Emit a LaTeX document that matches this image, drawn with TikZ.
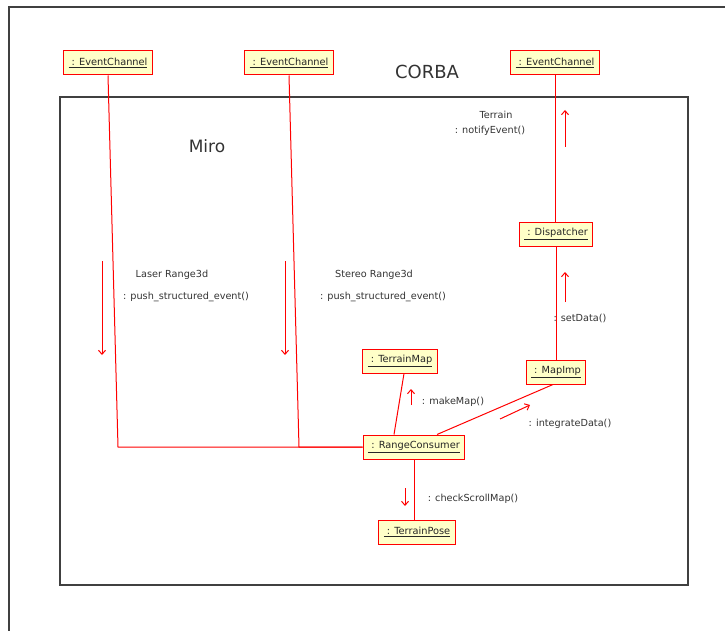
\documentclass[tikz,border=0pt]{standalone}
\usepackage{fontspec}
\setmainfont{DejaVu Sans}
\usetikzlibrary{arrows.meta}
\definecolor{umlyellow}{RGB}{255,255,200}
\tikzset{
  obj/.style={draw=red,fill=umlyellow,line width=1pt,minimum height=24pt,inner xsep=5pt,font=\fontsize{9.8}{11}\selectfont,text=black!85},
  msg/.style={font=\fontsize{9.7}{11}\selectfont,text=black!80},
  link/.style={red,line width=1pt},
  call/.style={-{Straight Barb[length=4pt,width=7pt]},red,line width=1pt},
}
\begin{document}
\begin{tikzpicture}[x=1pt,y=-1pt]
    \useasboundingbox (0,0) rectangle (725,631);
    % frames
    \draw[black!75,line width=1.3pt]  (9,631) -- (9,7) -- (725,7);
    \draw[black!75,line width=1.3pt]  (60,97) rectangle (688,585);
    \node[font=\fontsize{18}{20}\selectfont,text=black!80] (corba) at (427,72)  {CORBA};
    \node[font=\fontsize{17}{19}\selectfont,text=black!80] (miro)  at (207,146) {Miro};
    % objects
    \node[obj] (ecLaser)       at (108,63)  {\underline{\ : EventChannel}};
    \node[obj] (ecStereo)      at (289,63)  {\underline{\ : EventChannel}};
    \node[obj] (ecTerrain)     at (555,63)  {\underline{\ : EventChannel}};
    \node[obj] (dispatcher)    at (556,234) {\underline{\ : Dispatcher}};
    \node[obj] (mapImp)        at (556,372) {\underline{\ : MapImp}};
    \node[obj] (terrainMap)    at (400,361) {\underline{\ : TerrainMap}};
    \node[obj] (rangeConsumer) at (414,447) {\underline{\ : RangeConsumer}};
    \node[obj] (terrainPose)   at (417,532) {\underline{\ : TerrainPose}};
    % links
    \coordinate (laserBend)  at (118,447);
    \coordinate (stereoBend) at (299,447);
    \draw[link] (ecLaser.south)  -- (laserBend)  -- (rangeConsumer.west);
    \draw[link] (ecStereo.south) -- (stereoBend) -- (rangeConsumer.west);
    \draw[link] (ecTerrain.south) -- (ecTerrain.south |- dispatcher.north);
    \draw[link] (dispatcher) -- (mapImp);
    \draw[link] ([xshift=-3pt]mapImp.south) -- ([xshift=23pt]rangeConsumer.north);
    \draw[link] ([xshift=4pt]terrainMap.south) -- ([xshift=-20pt]rangeConsumer.north);
    \draw[link] (rangeConsumer.south) -- (rangeConsumer.south |- terrainPose.north);
    % messages
    \node[msg] (laserLbl)    at (172,275) {Laser Range3d};
    \node[msg] (laserCall)   at (186,297) {: push\_structured\_event()};
    \node[msg] (stereoLbl)   at (374,275) {Stereo Range3d};
    \node[msg] (stereoCall)  at (383,297) {: push\_structured\_event()};
    \node[msg] (terrainLbl)  at (496,115) {Terrain};
    \node[msg] (notifyCall)  at (490,131) {: notifyEvent()};
    \node[msg] (setDataCall) at (580,318) {: setData()};
    \node[msg] (makeMapCall) at (453,402) {: makeMap()};
    \node[msg] (integCall)   at (570,424) {: integrateData()};
    \node[msg] (scrollCall)  at (473,499) {: checkScrollMap()};
    \coordinate (laserFrom)   at (102,261);  \coordinate (laserTo)   at (102,355);
    \coordinate (stereoFrom)  at (285,261);  \coordinate (stereoTo)  at (285,355);
    \coordinate (notifyFrom)  at (565,147);  \coordinate (notifyTo)  at (565,110);
    \coordinate (setDataFrom) at (565,302);  \coordinate (setDataTo) at (565,272);
    \coordinate (makeMapFrom) at (411,405);  \coordinate (makeMapTo) at (411,389);
    \coordinate (integFrom)   at (500,419);  \coordinate (integTo)   at (530,405);
    \coordinate (scrollFrom)  at (405,488);  \coordinate (scrollTo)  at (405,506);
    \draw[call] (laserFrom)   -- (laserTo);
    \draw[call] (stereoFrom)  -- (stereoTo);
    \draw[call] (notifyFrom)  -- (notifyTo);
    \draw[call] (setDataFrom) -- (setDataTo);
    \draw[call] (makeMapFrom) -- (makeMapTo);
    \draw[call] (integFrom)   -- (integTo);
    \draw[call] (scrollFrom)  -- (scrollTo);
\end{tikzpicture}
\end{document}
